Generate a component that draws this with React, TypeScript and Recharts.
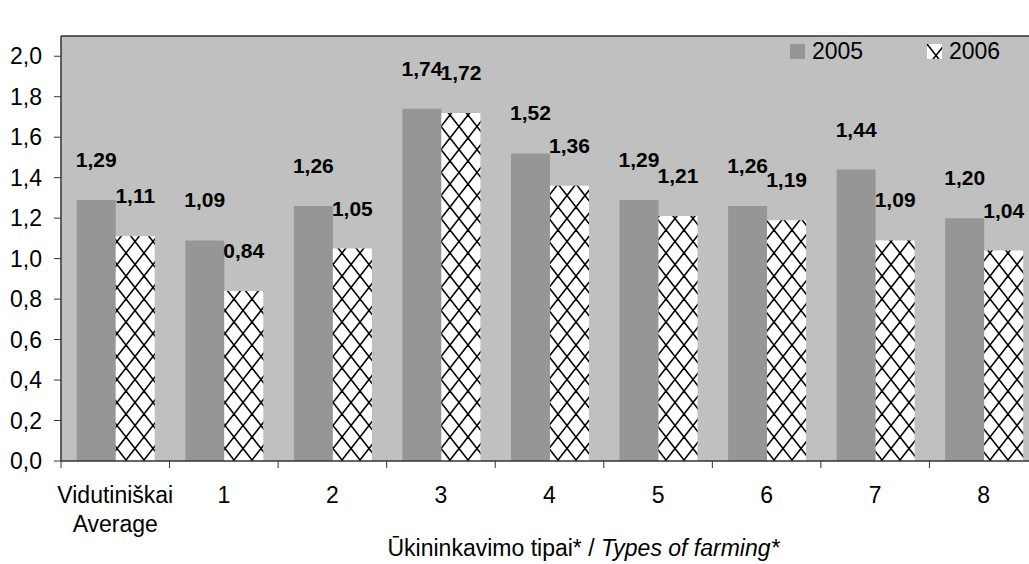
import { BarChart, Bar, XAxis, YAxis, CartesianGrid, ReferenceLine, Legend, LabelList } from 'recharts'

const categories = ['Vidutiniškai\nAverage', '1', '2', '3', '4', '5', '6', '7', '8']
const values2005 = [1.29, 1.09, 1.26, 1.74, 1.52, 1.29, 1.26, 1.44, 1.2]
const values2006 = [1.11, 0.84, 1.05, 1.72, 1.36, 1.21, 1.19, 1.09, 1.04]
const yTicks = [0, 0.2, 0.4, 0.6, 0.8, 1.0, 1.2, 1.4, 1.6, 1.8, 2.0]
const seriesNames = ['2005', '2006']

const data = categories.map((name, i) => ({ name, y2005: values2005[i], y2006: values2006[i] }))

const FONT = '"Liberation Sans", Arial, sans-serif'
const fmt = (v: number) => Number(v).toFixed(2).replace('.', ',')

function XTick(props: any) {
  const { x, y, payload } = props
  const half = payload.offset ?? 54
  const lines = String(payload.value).split('\n')
  return (
    <g>
      <line x1={x - half} x2={x - half} y1={y} y2={y + 7} stroke="#333" />
      {lines.map((l, i) => (
        <text key={i} x={x} y={y + 42 + i * 29} textAnchor="middle" fontSize={23} fill="#000" fontFamily={FONT}>
          {l}
        </text>
      ))}
    </g>
  )
}

function AxisTitle(props: any) {
  const { viewBox } = props
  const cx = viewBox.x + viewBox.width / 2 + 34
  return (
    <text x={cx} y={viewBox.y + 95} textAnchor="middle" fontSize={23} fill="#000" fontFamily={FONT}>
      Ūkininkavimo tipai* / <tspan fontStyle="italic">Types of farming*</tspan>
    </text>
  )
}

function LegendBox() {
  return (
    <div style={{ display: 'flex', fontFamily: FONT, fontSize: 23, color: '#000' }}>
      {seriesNames.map((s, i) => (
        <div key={s} style={{ width: 137, display: 'flex', alignItems: 'center' }}>
          <svg width={15} height={15} style={{ marginRight: 7 }}>
            <rect width={15} height={15} fill={i === 0 ? '#969696' : 'url(#cross)'} />
          </svg>
          <span>{s}</span>
        </div>
      ))}
    </div>
  )
}

export default function App() {
  return (
    <div style={{ position: 'absolute', left: 0, top: 0, width: 1029, height: 564, overflow: 'hidden', background: '#fff' }}>
      <BarChart
        width={1045}
        height={564}
        data={data}
        margin={{ top: 9, right: 7, left: 0, bottom: 0 }}
        barCategoryGap="14.5%"
        barGap={0}
      >
        <defs>
          <pattern id="cross" patternUnits="userSpaceOnUse" width={18} height={23}>
            <rect width={18} height={23} fill="#fff" />
            <line x1={0} y1={0} x2={18} y2={23} stroke="#000" strokeWidth={1.6} />
            <line x1={18} y1={0} x2={0} y2={23} stroke="#000" strokeWidth={1.6} />
          </pattern>
        </defs>
        <CartesianGrid horizontal={false} vertical={false} fill="#c0c0c0" />
        <ReferenceLine y={2.1} stroke="#333" strokeWidth={1.5} />
        <XAxis
          dataKey="name"
          interval={0}
          height={103}
          axisLine={{ stroke: '#333', strokeWidth: 1.5 }}
          tickLine={false}
          tickSize={0}
          tickMargin={0}
          tick={<XTick />}
          label={<AxisTitle />}
        />
        <YAxis
          width={61}
          domain={[0, 2.1]}
          ticks={yTicks}
          tickFormatter={(v: number) => v.toFixed(1).replace('.', ',')}
          axisLine={{ stroke: '#333', strokeWidth: 1.5 }}
          tickLine={{ stroke: '#333' }}
          tickSize={7}
          tickMargin={12}
          tick={{ fontSize: 23, fill: '#000', fontFamily: FONT }}
        />
        <Legend
          verticalAlign="top"
          align="left"
          content={<LegendBox />}
          wrapperStyle={{ top: 38, left: 790, width: 280 }}
        />
        <Bar dataKey="y2005" name="2005" fill="#969696" isAnimationActive={false}>
          <LabelList dataKey="y2005" position="top" offset={33} formatter={fmt} fontSize={21} fontWeight="bold" fill="#000" fontFamily={FONT} />
        </Bar>
        <Bar dataKey="y2006" name="2006" fill="url(#cross)" isAnimationActive={false}>
          <LabelList dataKey="y2006" position="top" offset={33} formatter={fmt} fontSize={21} fontWeight="bold" fill="#000" fontFamily={FONT} />
        </Bar>
      </BarChart>
    </div>
  )
}
